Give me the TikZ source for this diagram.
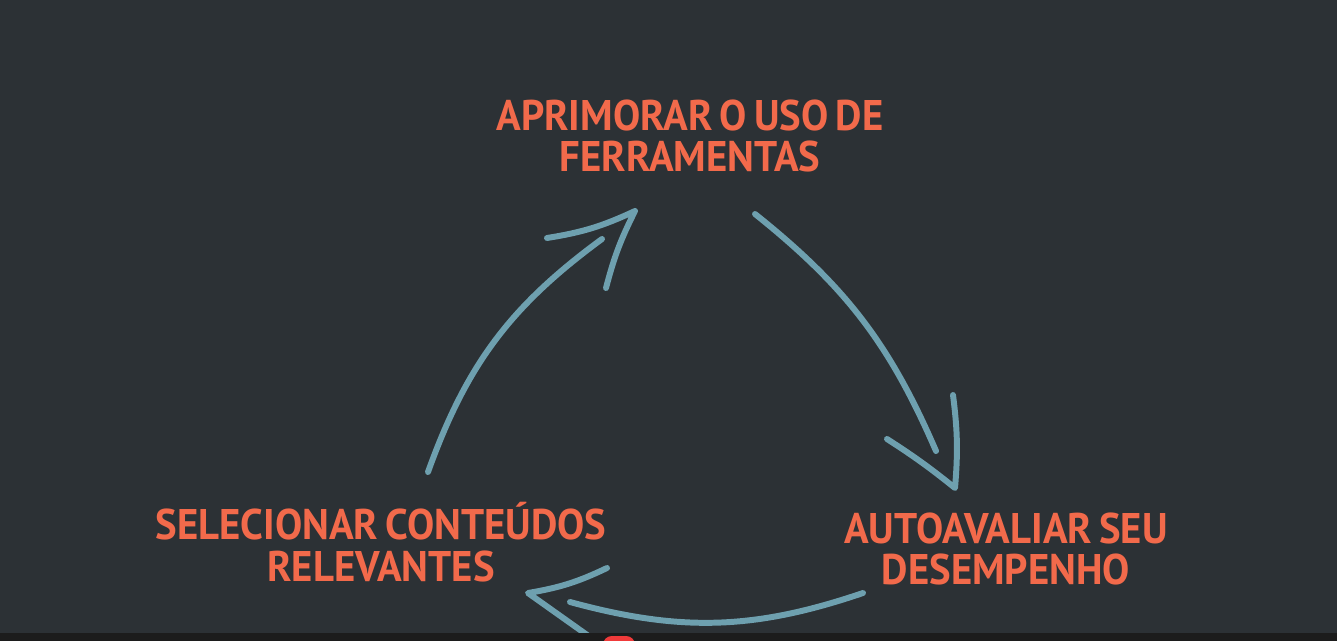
\documentclass[tikz,border=0pt]{standalone}
\usepackage{fontspec}
\newfontfamily\capfont[FakeStretch=0.95, WordSpace=0.7]{PT Sans}

\definecolor{bgslate}{HTML}{2C3135}
\definecolor{txtorange}{HTML}{F26A4B}
\definecolor{arrowblue}{HTML}{6EA0AF}
\definecolor{barblack}{HTML}{1C1C1C}
\definecolor{logored}{HTML}{F03A3A}

\tikzset{
  steplabel/.style={font=\capfont\bfseries\fontsize{24.4}{23.8}\selectfont, text=txtorange, align=center, inner sep=0pt},
  cycleline/.style={draw=arrowblue, line width=3.4pt, line cap=round, line join=round},
}

\begin{document}
\begin{tikzpicture}[x=0.02cm, y=-0.02cm]

        % Background
        \fill[bgslate] (0,0) rectangle (1337,641);
        \useasboundingbox (0,0) rectangle (1337,641);

        % Steps
        \node[steplabel] (ferramentas) at (690,136) {APRIMORAR O USO DE\\FERRAMENTAS};
        \node[steplabel] (conteudos) at (381,542) {SELECIONAR CONTEÚDOS\\RELEVANTES};
        \node[steplabel] (desempenho) at (1006,549) {AUTOAVALIAR SEU\\DESEMPENHO};

        % Seta 1
        \coordinate (s1a) at (428,472);
        \coordinate (s1b) at (602,239);
        \coordinate (s1t) at (635,211);
        \coordinate (s1l) at (547,238);
        \coordinate (s1r) at (606,288);

        \draw[cycleline] (s1a) to[bend left=17] (s1b);
        \draw[cycleline] (s1l) to[bend right=8] (s1t) to[bend right=6] (s1r);

        % Seta 2
        \coordinate (s2a) at (755,214);
        \coordinate (s2b) at (936,451);
        \coordinate (s2t) at (955,488);
        \coordinate (s2l) at (887,439);
        \coordinate (s2r) at (953,395);

        \draw[cycleline] (s2a) to[bend left=14] (s2b);
        \draw[cycleline] (s2l) to[bend left=3] (s2t) to[bend right=6] (s2r);

        % Seta 3
        \coordinate (s3a) at (863,593);
        \coordinate (s3b) at (570,602);
        \coordinate (s3t) at (528,593);
        \coordinate (s3l) at (607,568);
        \coordinate (s3r) at (597,642);

        \draw[cycleline] (s3a) to[bend left=17] (s3b);
        \draw[cycleline] (s3l) to[bend left=8] (s3t) -- (s3r);

        % Player bar
        \fill[barblack] (0,633) rectangle (1337,641);
        \fill[logored, rounded corners=5pt] (603,636) rectangle (635,655);

\end{tikzpicture}
\end{document}
